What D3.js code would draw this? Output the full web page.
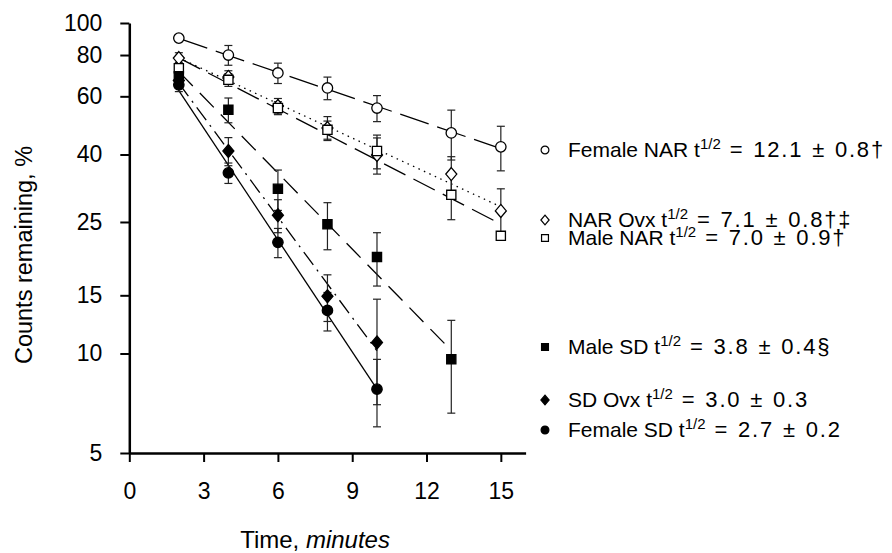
<html>
<head>
<script src="https://cdn.jsdelivr.net/npm/d3@7"></script>
<style>
    body {
        margin: 0;
        background: white;
        font-family: "Liberation Sans", Arial, Helvetica, sans-serif;
    }
</style>
</head>
<body>
<svg id="Chart"></svg>
<script>
    // data (counts remaining, %)
    let times = [2, 4, 6, 8, 10, 13, 15];
    let femaleNAR = [90, 80, 70.6, 63.6, 55.3, 46.5, 42.2];
    let femaleNARErr = [2, 5.5, 5, 5, 5, 8, 6.5];
    let narOvx = [78.3, 68.7, 56.1, 48.1, 39.9, 34.9, 27.0];
    let narOvxErr = [3, 3, 3, 4, 5, 4.5, 4.5];
    let maleNAR = [73, 67.3, 55.3, 47.5, 41, 30.2, 22.7];
    let maleNARErr = [3, 3, 2.5, 3, 4.8, 4.8, 0.6];
    let maleSD = [69, 54.6, 31.5, 24.6, 19.6, 9.6];
    let maleSDErr = [3, 4.7, 4.4, 4, 3.6, 3];
    let sdOvx = [67, 41, 26.2, 14.9, 10.8];
    let sdOvxErr = [3, 4, 3, 2.4, 3.8];
    let femaleSD = [65, 35.2, 21.7, 13.5, 7.8];
    let femaleSDErr = [3, 2.5, 2.2, 1.8, 1.8];

    let xTicks = [0, 3, 6, 9, 12, 15];
    let yTicks = [5, 10, 15, 25, 40, 60, 80, 100];

    let seriesNames = ["Female NAR", "NAR Ovx", "Male NAR", "Male SD", "SD Ovx", "Female SD"];
    let halfLives = ["12.1 \u00b1 0.8\u2020", "7.1 \u00b1 0.8\u2020\u2021", "7.0 \u00b1 0.9\u2020",
                     "3.8 \u00b1 0.4\u00a7", "3.0 \u00b1 0.3", "2.7 \u00b1 0.2"];

    let series = [
        { name: seriesNames[0], values: femaleNAR, errs: femaleNARErr, shape: "circle", filled: false, dash: "30,9", legendY: 157 },
        { name: seriesNames[1], values: narOvx, errs: narOvxErr, shape: "diamond", filled: false, dash: "1.5,4.5", legendY: 227 },
        { name: seriesNames[2], values: maleNAR, errs: maleNARErr, shape: "square", filled: false, dash: "24,9", legendY: 245 },
        { name: seriesNames[3], values: maleSD, errs: maleSDErr, shape: "square", filled: true, dash: "20,10", legendY: 354 },
        { name: seriesNames[4], values: sdOvx, errs: sdOvxErr, shape: "diamond", filled: true, dash: "16,6,2,6", legendY: 407 },
        { name: seriesNames[5], values: femaleSD, errs: femaleSDErr, shape: "circle", filled: true, dash: null, legendY: 437 }
    ];
    series.forEach((s, i) => {
        s.label = halfLives[i];
        s.points = s.values.map((v, j) => ({ t: times[j], v: v, e: s.errs[j] }));
    });

    // config
    function getConfig() {
        let width = 892;
        let height = 553;
        let container = d3.select("#Chart")
            .attr("width", width)
            .attr("height", height);
        return { width, height, container, left: 129.3, right: 525.6, top: 23, bottom: 453 };
    }

    // scales
    function getScales(config) {
        let xScale = d3.scaleLinear()
            .domain([0, 16])
            .range([config.left, config.right]);
        let yScale = d3.scaleLog()
            .domain([5, 100])
            .range([config.bottom, config.top]);
        return { xScale, yScale };
    }

    // axes
    function drawAxes(config, scales) {
        let { container } = config;
        let { xScale, yScale } = scales;

        let axisY = d3.axisLeft(yScale)
            .tickValues(yTicks)
            .tickFormat(d3.format("d"))
            .tickSize(9)
            .tickSizeOuter(0)
            .tickPadding(18);
        let gy = container.append("g")
            .attr("transform", `translate(${config.left},0)`)
            .call(axisY);

        let axisX = d3.axisBottom(xScale)
            .tickValues(xTicks)
            .tickSize(9)
            .tickSizeOuter(0)
            .tickPadding(21);
        let gx = container.append("g")
            .attr("transform", `translate(0,${config.bottom})`)
            .call(axisX);

        [gx, gy].forEach(g => {
            g.select(".domain").attr("stroke-width", 2.5);
            g.selectAll(".tick line").attr("stroke-width", 2);
            g.selectAll("text")
                .attr("font-size", 23)
                .attr("font-family", "Liberation Sans, Arial, sans-serif")
                .attr("fill", "black");
        });

        let title = container.append("text")
            .attr("x", (xScale(0) + xScale(15)) / 2)
            .attr("y", 548)
            .attr("text-anchor", "middle")
            .attr("font-size", 24);
        title.append("tspan").text("Time, ");
        title.append("tspan").attr("font-style", "italic").text("minutes");

        container.append("text")
            .attr("transform", "translate(32,255) rotate(-90)")
            .attr("text-anchor", "middle")
            .attr("font-size", 23.5)
            .text("Counts remaining, %");
    }

    // log-linear fit lines
    function fitLine(points) {
        let n = points.length;
        let mx = d3.mean(points, p => p.t);
        let my = d3.mean(points, p => Math.log(p.v));
        let sxy = d3.sum(points, p => (p.t - mx) * (Math.log(p.v) - my));
        let sxx = d3.sum(points, p => (p.t - mx) * (p.t - mx));
        let b = sxy / sxx;
        let a = my - b * mx;
        let t0 = points[0].t, t1 = points[n - 1].t;
        return [{ t: t0, v: Math.exp(a + b * t0) }, { t: t1, v: Math.exp(a + b * t1) }];
    }

    function drawLines(config, scales) {
        let { container } = config;
        let { xScale, yScale } = scales;
        let line = d3.line()
            .x(d => xScale(d.t))
            .y(d => yScale(d.v));

        container.append("g").selectAll("path")
            .data(series)
            .enter()
            .append("path")
            .attr("d", d => line(fitLine(d.points)))
            .attr("fill", "none")
            .attr("stroke", "black")
            .attr("stroke-width", 1.3)
            .attr("stroke-dasharray", d => d.dash);
    }

    function drawErrorBars(config, scales) {
        let { container } = config;
        let { xScale, yScale } = scales;
        let all = [];
        series.forEach(s => s.points.forEach(p => all.push(p)));

        let g = container.append("g")
            .attr("stroke", "#222")
            .attr("stroke-width", 1.2);
        let bars = g.selectAll("g")
            .data(all)
            .enter()
            .append("g");
        bars.append("line")
            .attr("x1", d => xScale(d.t))
            .attr("x2", d => xScale(d.t))
            .attr("y1", d => yScale(d.v + d.e))
            .attr("y2", d => yScale(Math.max(d.v - d.e, 5)));
        bars.append("line")
            .attr("x1", d => xScale(d.t) - 4)
            .attr("x2", d => xScale(d.t) + 4)
            .attr("y1", d => yScale(d.v + d.e))
            .attr("y2", d => yScale(d.v + d.e));
        bars.append("line")
            .attr("x1", d => xScale(d.t) - 4)
            .attr("x2", d => xScale(d.t) + 4)
            .attr("y1", d => yScale(d.v - d.e))
            .attr("y2", d => yScale(d.v - d.e));
    }

    // marker paths centered on 0,0
    function markerPath(shape, k) {
        if (shape === "circle") {
            let r = 5.2 * k;
            return `M${-r},0A${r},${r} 0 1,0 ${r},0A${r},${r} 0 1,0 ${-r},0Z`;
        }
        if (shape === "diamond") {
            let w = 5.5 * k, h = 6.5 * k;
            return `M0,${-h}L${w},0L0,${h}L${-w},0Z`;
        }
        let s = 4.6 * k;
        return `M${-s},${-s}H${s}V${s}H${-s}Z`;
    }

    function drawMarkers(config, scales) {
        let { container } = config;
        let { xScale, yScale } = scales;
        series.forEach(s => {
            container.append("g").selectAll("path")
                .data(s.points)
                .enter()
                .append("path")
                .attr("transform", d => `translate(${xScale(d.t)},${yScale(d.v)})`)
                .attr("d", markerPath(s.shape, 1))
                .attr("fill", s.filled ? "black" : "white")
                .attr("stroke", "black")
                .attr("stroke-width", 1.3);
        });
    }

    function drawLegend(config) {
        let { container } = config;
        let items = container.append("g").selectAll("g")
            .data(series)
            .enter()
            .append("g");

        items.append("path")
            .attr("transform", d => `translate(545,${d.legendY - 7})`)
            .attr("d", d => markerPath(d.shape, 0.75))
            .attr("fill", d => d.filled ? "black" : "white")
            .attr("stroke", "black")
            .attr("stroke-width", 1.2);

        let text = items.append("text")
            .attr("x", 568)
            .attr("y", d => d.legendY)
            .attr("font-size", 21);
        text.append("tspan").text(d => d.name + " t");
        text.append("tspan").attr("font-size", 15).attr("dy", -8).text("1/2");
        text.append("tspan")
            .attr("dy", 8)
            .attr("font-size", 22)
            .attr("letter-spacing", 1.8)
            .attr("word-spacing", 1)
            .text(d => " = " + d.label);
    }

    function showChart() {
        let config = getConfig();
        let scales = getScales(config);
        drawLines(config, scales);
        drawErrorBars(config, scales);
        drawMarkers(config, scales);
        drawAxes(config, scales);
        drawLegend(config);
    }

    showChart();
</script>
</body>
</html>
